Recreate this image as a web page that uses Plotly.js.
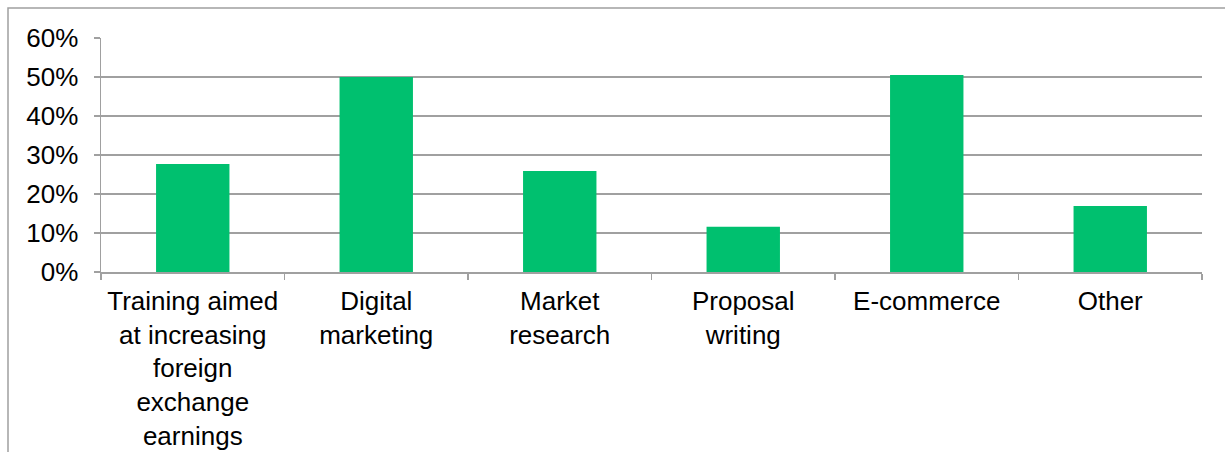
<!DOCTYPE html>
<html>
<head>
<meta charset="utf-8">
<script src="https://cdn.plot.ly/plotly-3.0.1.min.js"></script>
<style>
html,body{margin:0;padding:0;background:#fff;}
#chart{width:1225px;height:452px;}
</style>
</head>
<body>
<div id="chart"></div>
<script>
const categories = [
  "Training aimed<br>at increasing<br>foreign<br>exchange<br>earnings",
  "Digital<br>marketing",
  "Market<br>research",
  "Proposal<br>writing",
  "E-commerce",
  "Other"
];
const values = [0.277, 0.50, 0.259, 0.116, 0.505, 0.169];
const yTickVals = [0, 0.1, 0.2, 0.3, 0.4, 0.5, 0.6];
const yTickText = ["0%", "10%", "20%", "30%", "40%", "50%", "60%"];

const grey = "#a0a0a0";
const font = {family: "Liberation Sans, Arial, sans-serif", size: 26, color: "#000"};

const trace = {
  type: "bar",
  x: categories,
  y: values,
  marker: {color: "#00c06f"},
  hoverinfo: "none"
};

const layout = {
  width: 1225,
  height: 452,
  margin: {l: 101, r: 23, t: 38, b: 180},
  paper_bgcolor: "#fff",
  plot_bgcolor: "#fff",
  font: font,
  bargap: 0.6,
  showlegend: false,
  xaxis: {
    type: "category",
    showline: true,
    linecolor: grey,
    linewidth: 1.5,
    ticks: "outside",
    tickson: "boundaries",
    ticklen: 6,
    tickcolor: grey,
    tickwidth: 1.5,
    showgrid: false,
    tickfont: font,
    tickangle: 0,
    ticklabelstandoff: 5,
    automargin: false
  },
  yaxis: {
    range: [0, 0.6],
    tickvals: yTickVals,
    ticktext: yTickText,
    showline: true,
    linecolor: grey,
    linewidth: 1.5,
    ticks: "outside",
    ticklen: 6,
    tickcolor: grey,
    tickwidth: 1.5,
    showgrid: true,
    gridcolor: grey,
    gridwidth: 1.5,
    zeroline: false,
    tickfont: font,
    ticklabelstandoff: 10,
    automargin: false
  },
  shapes: [{
    type: "rect",
    xref: "paper", yref: "paper",
    x0: (8 - 101) / 1101, x1: 1.05,
    y0: -1, y1: 1 + 30 / 234,
    line: {color: grey, width: 1.5},
    fillcolor: "rgba(0,0,0,0)",
    layer: "below"
  }]
};

Plotly.newPlot("chart", [trace], layout, {displayModeBar: false, staticPlot: true});
</script>
</body>
</html>
